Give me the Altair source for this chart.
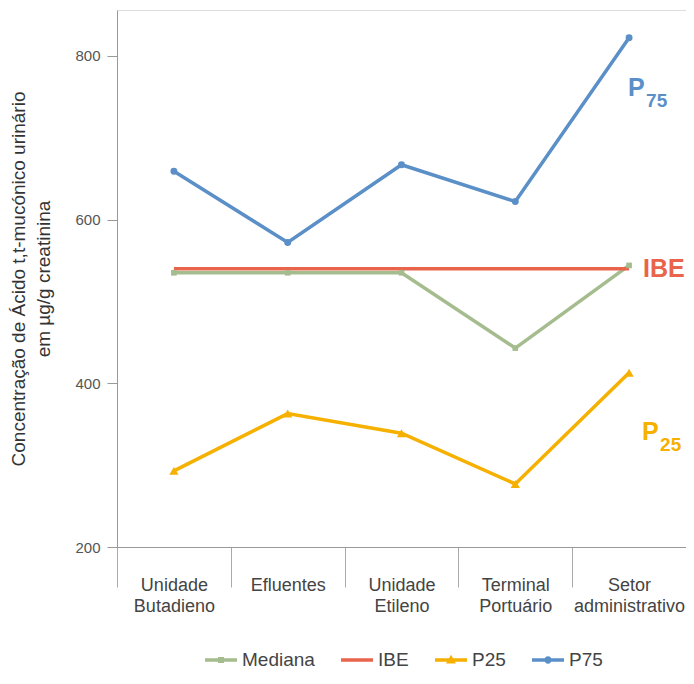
import altair as alt
import pandas as pd

# ---------------- data ----------------
categories = ["Unidade Butadieno", "Efluentes", "Unidade Etileno",
              "Terminal Portuário", "Setor administrativo"]
series_names = ["Mediana", "IBE", "P25", "P75"]
mediana = [535, 535, 535, 443, 544]
ibe = [540, 540, 540, 540, 540]
p25 = [293, 363, 339, 277, 413]
p75 = [659, 572, 667, 622, 822]
y_ticks = [200, 400, 600, 800]
y_domain = [200, 856]
colors = ["#A5BC8F", "#E8644A", "#F5B000", "#5B8FC7"]

# annotation labels near the end of the lines
ann_text = ["P", "75", "IBE", "P", "25"]
ann_series = ["P75", "P75", "IBE", "P25", "P25"]
ann_value = [761, 745, 539, 341, 325]

FONT = "Liberation Sans, Arial, sans-serif"

rows = []
for name, vals in zip(series_names, [mediana, ibe, p25, p75]):
    for c, v in zip(categories, vals):
        rows.append({"cat": c, "value": v, "series": name})
df = pd.DataFrame(rows)

ann = pd.DataFrame({"txt": ann_text, "series": ann_series, "value": ann_value,
                    "cat": [categories[-1]] * len(ann_text)})

# legend symbols: line + marker paths
LINE = "M-1,-0.11H1V0.11H-1Z"
SQ = "M-0.19,-0.19H0.19V0.19H-0.19Z"
CIRC = "M-0.23,0A0.23,0.23,0,1,1,0.23,0A0.23,0.23,0,1,1,-0.23,0Z"
TRI = "M0,-0.33L0.31,0.22H-0.31Z"
legend_shapes = [LINE + SQ, LINE, LINE + TRI, LINE + CIRC]

color_scale = alt.Scale(domain=series_names, range=colors)

x_enc = alt.X(
    "cat:N", sort=categories, title=None,
    scale=alt.Scale(paddingInner=0, paddingOuter=0),
    axis=alt.Axis(
        labelAngle=0, labelExpr="split(datum.label, ' ')",
        labelFont=FONT, labelFontSize=18, labelColor="#444", labelLineHeight=21,
        labelBaseline="top", labelPadding=-11,
        tickBand="extent", tickSize=40, tickColor="#aaa", tickWidth=1,
        domainColor="#999", domainWidth=1, grid=False,
    ),
)
y_enc = alt.Y(
    "value:Q",
    scale=alt.Scale(domain=y_domain, nice=False, zero=False),
    title=["Concentração de Ácido t,t-mucónico urinário", "em µg/g creatinina"],
    axis=alt.Axis(
        values=y_ticks, grid=False, domainColor="#999", tickColor="#999",
        tickSize=10, labelFont=FONT, labelFontSize=15, labelColor="#555",
        labelPadding=7, titleFont=FONT, titleFontSize=19, titleFontWeight="normal",
        titleColor="#333", titlePadding=21, titleLineHeight=25,
    ),
)

legend = alt.Legend(
    title=None, orient="none", direction="horizontal", legendX=88, legendY=634,
    symbolSize=1024, symbolStrokeWidth=0, symbolOpacity=1,
    labelFont=FONT, labelFontSize=19,
    labelColor="#444", columnPadding=26, labelOffset=5,
)

color_enc = alt.Color("series:N", scale=color_scale)

# legend-carrying layer (invisible marks), placed first
legend_layer = alt.Chart(df).mark_point(filled=True, opacity=0).encode(
    x=x_enc, y=y_enc,
    color=alt.Color("series:N", scale=color_scale, legend=legend),
    shape=alt.Shape("series:N", scale=alt.Scale(domain=series_names, range=legend_shapes),
                    legend=legend),
)

lines = alt.Chart(df).mark_line(strokeWidth=3.5).encode(
    x=alt.X("cat:N", sort=categories), y="value:Q", color=color_enc,
)


def point_layer(name, shape, size):
    return alt.Chart(df).transform_filter(alt.datum.series == name).mark_point(
        filled=True, opacity=1, shape=shape, size=size
    ).encode(
        x=alt.X("cat:N", sort=categories), y="value:Q", color=color_enc,
    )


pts_med = point_layer("Mediana", "square", 32)
pts_p25 = point_layer("P25", "triangle-up", 85)
pts_p75 = point_layer("P75", "circle", 48)


def text_layer(txt, series, dx, size):
    sub = ann[(ann.txt == txt) & (ann.series == series)]
    return alt.Chart(sub).mark_text(
        font=FONT, fontSize=size, fontWeight="bold", align="left",
        baseline="middle", dx=dx,
    ).encode(
        x=alt.X("cat:N", sort=categories), y="value:Q", text="txt:N",
        color=color_enc,
    )


p75_P = text_layer("P", "P75", -1, 25)
p75_sub = text_layer("75", "P75", 17, 19)
ibe_lab = text_layer("IBE", "IBE", 14, 25)
p25_P = text_layer("P", "P25", 13, 25)
p25_sub = text_layer("25", "P25", 31, 19)

chart = alt.layer(
    legend_layer, lines, pts_med, pts_p25, pts_p75,
    p75_P, p75_sub, ibe_lab, p25_P, p25_sub,
).properties(
    width=569, height=537,
    autosize=alt.AutoSizeParams(type="none"),
    padding={"left": 109, "top": 2, "right": 0, "bottom": 129},
).configure_view(strokeWidth=0).configure(background="white")

chart.save("out.html", embed_options={"renderer": "svg", "actions": False})
